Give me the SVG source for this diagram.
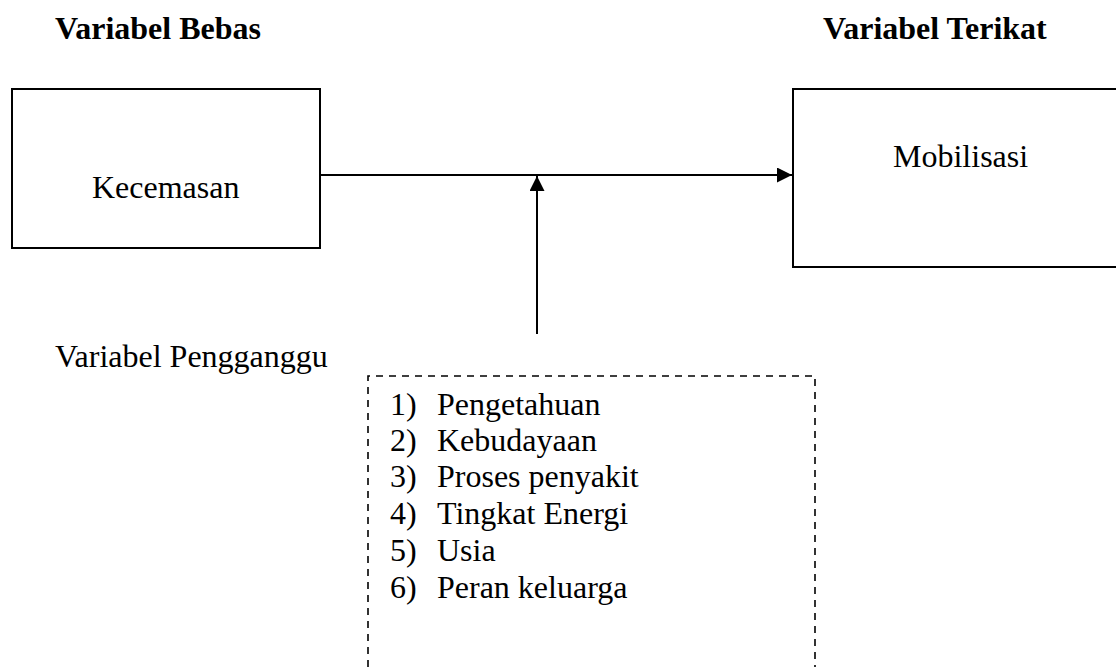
<svg xmlns="http://www.w3.org/2000/svg" width="1116" height="667" viewBox="0 0 1116 667">
<style>
text{font-family:"Liberation Serif","Times New Roman",serif;font-size:32px;fill:#000}
.h{font-weight:bold}
.box{fill:#fff;stroke:#000;stroke-width:2}
.dash{fill:none;stroke:#000;stroke-width:1.6;stroke-dasharray:7 6}
.conn{stroke:#000;stroke-width:2;fill:none}
</style>
<defs>
<marker id="arr" markerUnits="userSpaceOnUse" markerWidth="16" markerHeight="16" refX="15" refY="7.5" orient="auto">
<path d="M0,0 L15,7.5 L0,15 z" fill="#000"/>
</marker>
</defs>
<rect width="1116" height="667" fill="#fff"/>
<g id="heading-bebas"><text class="h" x="55" y="39">Variabel Bebas</text></g>
<g id="heading-terikat"><text class="h" x="823" y="39">Variabel Terikat</text></g>
<g id="node-kecemasan">
<rect class="box" x="12" y="89" width="308" height="159"/>
<text x="92" y="198">Kecemasan</text>
</g>
<g id="node-mobilisasi">
<rect class="box" x="793" y="89" width="330" height="178"/>
<text x="893" y="167">Mobilisasi</text>
</g>
<g id="label-pengganggu"><text x="55" y="367">Variabel Pengganggu</text></g>
<g id="node-pengganggu">
<path class="dash" d="M368,680 V376 H815 V680"/>
<text x="390" y="415">1)</text><text x="437" y="415">Pengetahuan</text>
<text x="390" y="451">2)</text><text x="437" y="451">Kebudayaan</text>
<text x="390" y="487">3)</text><text x="437" y="487">Proses penyakit</text>
<text x="390" y="524">4)</text><text x="437" y="524">Tingkat Energi</text>
<text x="390" y="561">5)</text><text x="437" y="561">Usia</text>
<text x="390" y="598">6)</text><text x="437" y="598">Peran keluarga</text>
</g>
<g id="connectors">
<line class="conn" x1="320" y1="175" x2="792" y2="175" marker-end="url(#arr)"/>
<line class="conn" x1="537" y1="334" x2="537" y2="176" marker-end="url(#arr)"/>
</g>
</svg>
